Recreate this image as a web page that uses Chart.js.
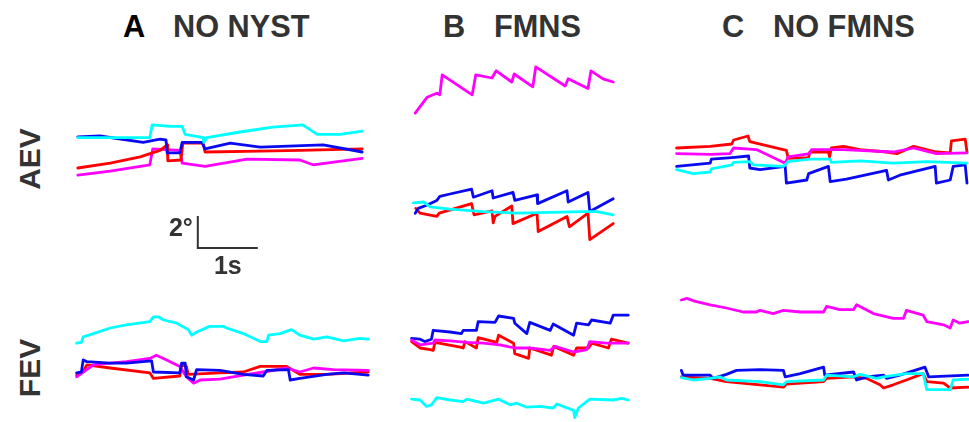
<!DOCTYPE html>
<html>
<head>
<meta charset="utf-8">
<script src="https://cdn.jsdelivr.net/npm/chart.js@4.4.1/dist/chart.umd.min.js"></script>
<style>
  body { margin: 0; background: #fff; width: 969px; height: 422px; overflow: hidden; position: relative;
         font-family: "Liberation Sans", Arial, sans-serif; }
  .panel { position: absolute; }
  .title { position: absolute; top: 10px; font-weight: bold; font-size: 32px; line-height: 1; color: #333; white-space: nowrap;
           transform: scaleX(0.96); transform-origin: left center; }
  .title b { color: #000; }
  .row { position: absolute; font-weight: bold; font-size: 30px; line-height: 1; color: #333;
         transform: translate(-50%, -50%) rotate(-90deg); white-space: nowrap; }
</style>
</head>
<body>

<div class="title" style="left:123px"><b>A</b></div>
<div class="title" style="left:173px">NO NYST</div>
<div class="title" style="left:443px">B</div>
<div class="title" style="left:494px">FMNS</div>
<div class="title" style="left:722px">C</div>
<div class="title" style="left:773px">NO FMNS</div>
<div class="row" style="left:30px; top:159px">AEV</div>
<div class="row" style="left:30px; top:368px">FEV</div>

<canvas id="aAev" class="panel"></canvas>
<canvas id="bAev" class="panel"></canvas>
<canvas id="cAev" class="panel"></canvas>
<canvas id="aFev" class="panel"></canvas>
<canvas id="bFev" class="panel"></canvas>
<canvas id="cFev" class="panel"></canvas>

<script>
// eye position traces: [time (s), position (deg)]

// ---- A  NO NYST, AEV
const aAevCyan = [[0.13,3.9],[0.67,3.9],[1.33,3.9],[1.37,4.7],[1.67,4.6],[1.87,4.6],[1.92,4.1],[2.22,3.9],[2.23,3.6],[2.28,3.9],[2.83,4.25],[3.38,4.55],[3.88,4.7],[4.12,4.1],[4.5,4.1],[4.87,4.3]];
const aAevBlue = [[0.13,3.95],[0.5,4.0],[1.22,3.6],[1.5,3.8],[1.6,3.75],[1.62,2.95],[1.83,2.95],[1.87,3.6],[2.2,3.6],[2.25,3.2],[2.67,3.55],[3.17,3.3],[4.22,3.45],[4.87,3.0]];
const aAevRed = [[0.13,2.0],[0.67,2.3],[1.17,2.7],[1.5,3.1],[1.62,3.45],[1.63,2.45],[1.85,2.5],[1.88,3.55],[2.22,3.55],[2.25,3.0],[3.17,3.05],[3.83,3.1],[4.87,3.2]];
const aAevMagenta = [[0.13,1.55],[0.67,1.8],[1.33,2.2],[1.38,3.2],[1.83,3.1],[1.87,2.3],[2.25,2.1],[2.95,2.55],[3.83,2.5],[4.05,2.2],[4.87,2.6]];

// ---- B  FMNS, AEV
const bAevMagenta = [[0.17,8.55],[0.37,9.55],[0.53,9.8],[0.58,9.7],[0.62,10.95],[1.12,9.7],[1.18,10.95],[1.45,10.75],[1.52,11.2],[1.78,10.5],[1.82,11.0],[2.13,10.2],[2.18,11.45],[2.67,10.25],[2.72,10.7],[3.05,10.1],[3.1,11.2],[3.3,10.7],[3.47,10.5]];
const bAevBlue = [[0.17,2.3],[0.22,2.6],[0.36,2.8],[0.53,3.1],[0.58,3.35],[0.75,3.5],[1.11,3.8],[1.14,3.3],[1.45,3.7],[1.47,3.25],[1.8,3.6],[1.83,3.1],[2.2,3.45],[2.21,2.9],[2.7,3.7],[2.72,3.0],[3.05,3.6],[3.08,2.4],[3.47,3.2]];
const bAevRed = [[0.18,2.6],[0.25,2.3],[0.53,2.1],[0.57,2.3],[1.11,2.9],[1.15,2.2],[1.45,2.45],[1.47,1.7],[1.5,2.1],[1.78,2.75],[1.8,1.65],[2.2,2.3],[2.22,1.15],[2.7,2.1],[2.74,1.45],[3.05,2.3],[3.08,0.65],[3.47,1.65]];
const bAevCyan = [[0.14,2.95],[0.31,3.0],[0.42,2.7],[0.75,2.55],[1.31,2.4],[1.86,2.3],[2.42,2.35],[2.97,2.4],[3.2,2.4],[3.47,2.2]];

// ---- C  NO FMNS, AEV
const cAevRed = [[0.11,4.5],[0.67,4.6],[1.03,4.75],[1.06,5.0],[1.3,5.25],[1.33,4.9],[1.94,4.35],[1.97,3.85],[2.31,3.9],[2.33,4.25],[2.64,4.25],[2.66,3.95],[2.69,4.5],[2.89,4.6],[3.17,4.4],[3.61,4.25],[3.78,4.15],[4.06,4.6],[4.44,4.25],[4.67,4.2],[4.69,4.95],[4.92,5.05],[4.95,4.25]];
const cAevMagenta = [[0.11,4.15],[0.67,4.1],[1.0,4.15],[1.06,4.5],[1.44,4.4],[1.92,3.55],[1.97,3.95],[2.33,4.15],[2.36,4.4],[2.89,4.4],[3.72,4.25],[4.06,4.5],[4.44,4.15],[4.95,4.2]];
const cAevCyan = [[0.11,3.15],[0.39,2.9],[0.67,3.0],[0.69,3.2],[1.03,3.45],[1.06,3.6],[1.33,3.65],[1.39,3.45],[1.89,3.35],[1.97,3.65],[2.33,3.8],[2.67,3.8],[2.69,3.6],[3.17,3.7],[3.72,3.55],[4.28,3.65],[4.95,3.55]];
const cAevBlue = [[0.11,3.35],[0.67,3.55],[0.69,3.8],[1.03,3.9],[1.31,4.0],[1.33,3.25],[1.5,3.15],[1.92,3.35],[1.94,2.3],[2.28,2.5],[2.31,2.9],[2.64,3.35],[2.67,2.4],[2.94,2.55],[3.61,3.1],[3.64,2.5],[3.83,2.8],[4.42,3.35],[4.44,2.3],[4.67,2.5],[4.72,3.35],[4.92,3.45],[4.95,2.3]];

// ---- A  NO NYST, FEV
const aFevCyan = [[0.11,3.55],[0.19,3.6],[0.22,3.95],[0.39,4.15],[0.67,4.5],[0.94,4.7],[1.33,4.9],[1.39,5.2],[1.47,5.2],[1.56,5.0],[1.78,4.8],[1.97,4.4],[2.03,4.05],[2.11,4.25],[2.33,4.6],[2.56,4.6],[2.61,4.5],[2.89,4.15],[3.17,3.65],[3.28,3.65],[3.31,4.05],[3.5,4.15],[3.69,4.4],[3.83,4.05],[4.06,3.8],[4.28,3.95],[4.56,3.7],[4.83,3.85],[4.97,3.8]];
const aFevBlue = [[0.11,1.7],[0.19,1.75],[0.22,2.5],[0.28,2.4],[0.67,2.3],[0.94,2.3],[1.36,2.45],[1.39,1.75],[1.83,1.7],[1.86,2.3],[1.92,2.3],[1.94,1.45],[2.06,1.25],[2.11,1.9],[2.5,1.85],[2.89,1.6],[3.22,1.5],[3.28,1.85],[3.64,1.9],[3.67,1.25],[3.83,1.35],[4.28,1.6],[4.56,1.7],[4.97,1.55]];
const aFevRed = [[0.11,1.55],[0.22,1.75],[0.28,2.2],[0.67,2.0],[1.33,1.7],[1.39,1.35],[1.83,1.5],[1.86,2.2],[1.94,2.1],[1.97,1.6],[2.5,1.7],[2.89,1.75],[3.17,2.1],[3.61,2.1],[3.83,1.6],[4.28,1.6],[4.97,1.75]];
const aFevMagenta = [[0.11,1.45],[0.22,1.75],[0.39,2.2],[0.67,2.3],[0.94,2.4],[1.33,2.6],[1.44,2.8],[1.61,2.5],[1.83,2.1],[1.94,1.45],[2.06,1.05],[2.17,1.25],[2.5,1.3],[2.89,1.55],[3.22,1.75],[3.61,2.0],[3.83,1.75],[4.06,2.0],[4.39,1.9],[4.97,1.85]];

// ---- B  FMNS, FEV
const bFevBlue = [[0.11,5.1],[0.25,5.05],[0.33,4.9],[0.44,5.05],[0.47,5.6],[0.75,5.5],[0.94,5.4],[0.97,5.6],[1.19,5.6],[1.22,6.15],[1.5,6.1],[1.56,6.5],[1.81,6.35],[1.83,6.05],[2.03,5.4],[2.08,6.1],[2.42,5.6],[2.47,6.0],[2.81,5.3],[2.86,6.05],[3.06,5.95],[3.11,6.25],[3.42,6.05],[3.47,6.55],[3.72,6.55]];
const bFevRed = [[0.11,4.9],[0.25,4.5],[0.42,4.4],[0.47,4.35],[0.5,4.85],[0.92,4.55],[0.97,4.5],[1.0,4.9],[1.19,4.5],[1.22,5.15],[1.53,4.85],[1.56,5.3],[1.81,4.8],[1.83,4.15],[2.06,3.85],[2.08,4.5],[2.44,4.05],[2.48,4.6],[2.81,4.05],[2.86,4.5],[3.06,4.5],[3.11,4.8],[3.39,4.5],[3.44,5.05],[3.72,4.8]];
const bFevMagenta = [[0.11,5.0],[0.25,4.7],[0.47,4.8],[0.5,5.0],[0.75,4.95],[1.03,4.85],[1.31,4.8],[1.58,4.7],[1.83,4.5],[2.06,4.5],[2.08,4.5],[2.42,4.35],[2.5,4.6],[2.81,4.25],[3.03,4.4],[3.08,4.9],[3.36,4.8],[3.72,4.8]];
const bFevCyan = [[0.11,1.3],[0.25,1.25],[0.36,0.85],[0.44,0.95],[0.53,1.4],[0.75,1.25],[0.97,1.15],[1.03,1.3],[1.31,1.05],[1.56,1.3],[1.75,0.95],[1.86,1.05],[2.03,0.8],[2.25,0.85],[2.47,0.75],[2.53,1.0],[2.81,0.6],[2.83,0.15],[2.89,0.75],[3.08,1.3],[3.47,1.25],[3.61,1.35],[3.72,1.25]];

// ---- C  NO FMNS, FEV
const cFevMagenta = [[0.19,6.25],[0.28,6.35],[0.39,6.2],[0.67,5.95],[0.94,5.75],[1.22,5.5],[1.44,5.5],[1.5,5.6],[1.72,5.4],[1.89,5.6],[2.17,5.5],[2.56,5.5],[2.61,5.85],[2.83,5.65],[3.06,5.65],[3.11,5.95],[3.39,5.4],[3.72,5.1],[3.89,5.1],[3.94,5.6],[4.22,5.3],[4.28,4.9],[4.56,4.7],[4.67,4.5],[4.72,5.0],[4.83,4.8],[4.97,4.9]];
const cFevBlue = [[0.19,1.85],[0.22,1.55],[0.67,1.55],[0.72,1.35],[0.94,1.6],[1.11,1.85],[1.5,1.9],[1.89,1.85],[1.92,1.45],[2.17,1.65],[2.56,2.05],[2.58,1.55],[3.06,1.75],[3.11,1.25],[3.28,1.45],[3.56,1.55],[3.61,1.35],[3.83,1.55],[4.25,2.05],[4.31,1.45],[4.97,1.55]];
const cFevRed = [[0.19,1.45],[0.67,1.35],[0.94,1.15],[1.5,0.95],[1.89,0.8],[1.94,1.0],[2.56,1.15],[2.61,1.35],[3.06,1.45],[3.28,1.35],[3.5,0.95],[3.56,0.75],[3.72,0.95],[3.94,1.25],[4.22,1.65],[4.28,1.15],[4.56,1.05],[4.67,0.75],[4.97,0.8]];
const cFevCyan = [[0.19,1.4],[0.39,1.25],[0.67,1.35],[0.83,1.45],[0.94,1.25],[1.5,1.15],[1.89,0.95],[1.94,1.15],[2.56,1.25],[2.61,1.55],[3.06,1.45],[3.17,1.6],[3.44,1.35],[3.56,1.45],[3.94,1.65],[4.22,1.65],[4.28,0.65],[4.67,0.65],[4.72,1.25],[4.97,1.3]];

// scale bar: 1 s, 2 deg
const scaleSec = 1;
const scaleDeg = 2;

const PX_PER_S = 60;
const PX_PER_DEG = 16;

const colors = { cyan: '#00ffff', blue: '#0a0af0', red: '#ff0000', magenta: '#ff00ff' };

// first dataset is drawn on top
const panels = [
  { id: 'aAev', left: 70,  top: 100, w: 300, h: 180, yMin: -5, series: { cyan: aAevCyan, blue: aAevBlue, red: aAevRed, magenta: aAevMagenta }, scaleBar: true },
  { id: 'bAev', left: 405, top: 55,  w: 230, h: 195, yMin: 0,  series: { cyan: bAevCyan, blue: bAevBlue, red: bAevRed, magenta: bAevMagenta } },
  { id: 'cAev', left: 670, top: 100, w: 299, h: 120, yMin: 0,  series: { cyan: cAevCyan, blue: cAevBlue, magenta: cAevMagenta, red: cAevRed } },
  { id: 'aFev', left: 70,  top: 300, w: 300, h: 100, yMin: 0,  series: { blue: aFevBlue, magenta: aFevMagenta, red: aFevRed, cyan: aFevCyan } },
  { id: 'bFev', left: 405, top: 290, w: 230, h: 130, yMin: 0,  series: { magenta: bFevMagenta, red: bFevRed, blue: bFevBlue, cyan: bFevCyan } },
  { id: 'cFev', left: 670, top: 280, w: 299, h: 120, yMin: 0,  series: { cyan: cFevCyan, blue: cFevBlue, red: cFevRed, magenta: cFevMagenta } },
];

const scaleBarPlugin = {
  id: 'scaleBar',
  afterDatasetsDraw(chart) {
    if (!chart.options.plugins.scaleBar.show) return;
    const x = chart.scales.x, y = chart.scales.y;
    const x0 = x.getPixelForValue(2.13), x1 = x.getPixelForValue(2.13 + scaleSec);
    const y0 = y.getPixelForValue(-1), y1 = y.getPixelForValue(-1 - scaleDeg);
    const c = chart.ctx;
    c.save();
    c.strokeStyle = '#333';
    c.lineWidth = 2;
    c.beginPath();
    c.moveTo(x0, y0);
    c.lineTo(x0, y1);
    c.lineTo(x1, y1);
    c.stroke();
    c.fillStyle = '#333';
    c.font = 'bold 25px "Liberation Sans", Arial, sans-serif';
    c.textBaseline = 'middle';
    c.textAlign = 'right';
    c.fillText(scaleDeg + '\u00b0', x0 - 5, (y0 + y1) / 2 - 3);
    c.textAlign = 'center';
    c.fillText(scaleSec + 's', (x0 + x1) / 2, y1 + 19);
    c.restore();
  }
};

panels.forEach(p => {
  const cv = document.getElementById(p.id);
  cv.width = p.w;
  cv.height = p.h;
  cv.style.left = p.left + 'px';
  cv.style.top = p.top + 'px';

  const datasets = Object.keys(p.series).map(name => ({
    label: name,
    data: p.series[name].map(d => ({ x: d[0], y: d[1] })),
    borderColor: colors[name],
    borderWidth: 2.8,
    borderJoinStyle: 'round',
    borderCapStyle: 'round',
    pointRadius: 0,
    tension: 0,
    fill: false,
    clip: false,
  }));

  new Chart(cv, {
    type: 'line',
    data: { datasets: datasets },
    options: {
      responsive: false,
      animation: false,
      events: [],
      layout: { padding: 0 },
      plugins: { legend: { display: false }, tooltip: { enabled: false }, scaleBar: { show: !!p.scaleBar } },
      scales: {
        x: { type: 'linear', display: false, min: 0, max: p.w / PX_PER_S },
        y: { type: 'linear', display: false, min: p.yMin, max: p.yMin + p.h / PX_PER_DEG },
      },
    },
    plugins: [scaleBarPlugin],
  });
});
</script>
</body>
</html>
